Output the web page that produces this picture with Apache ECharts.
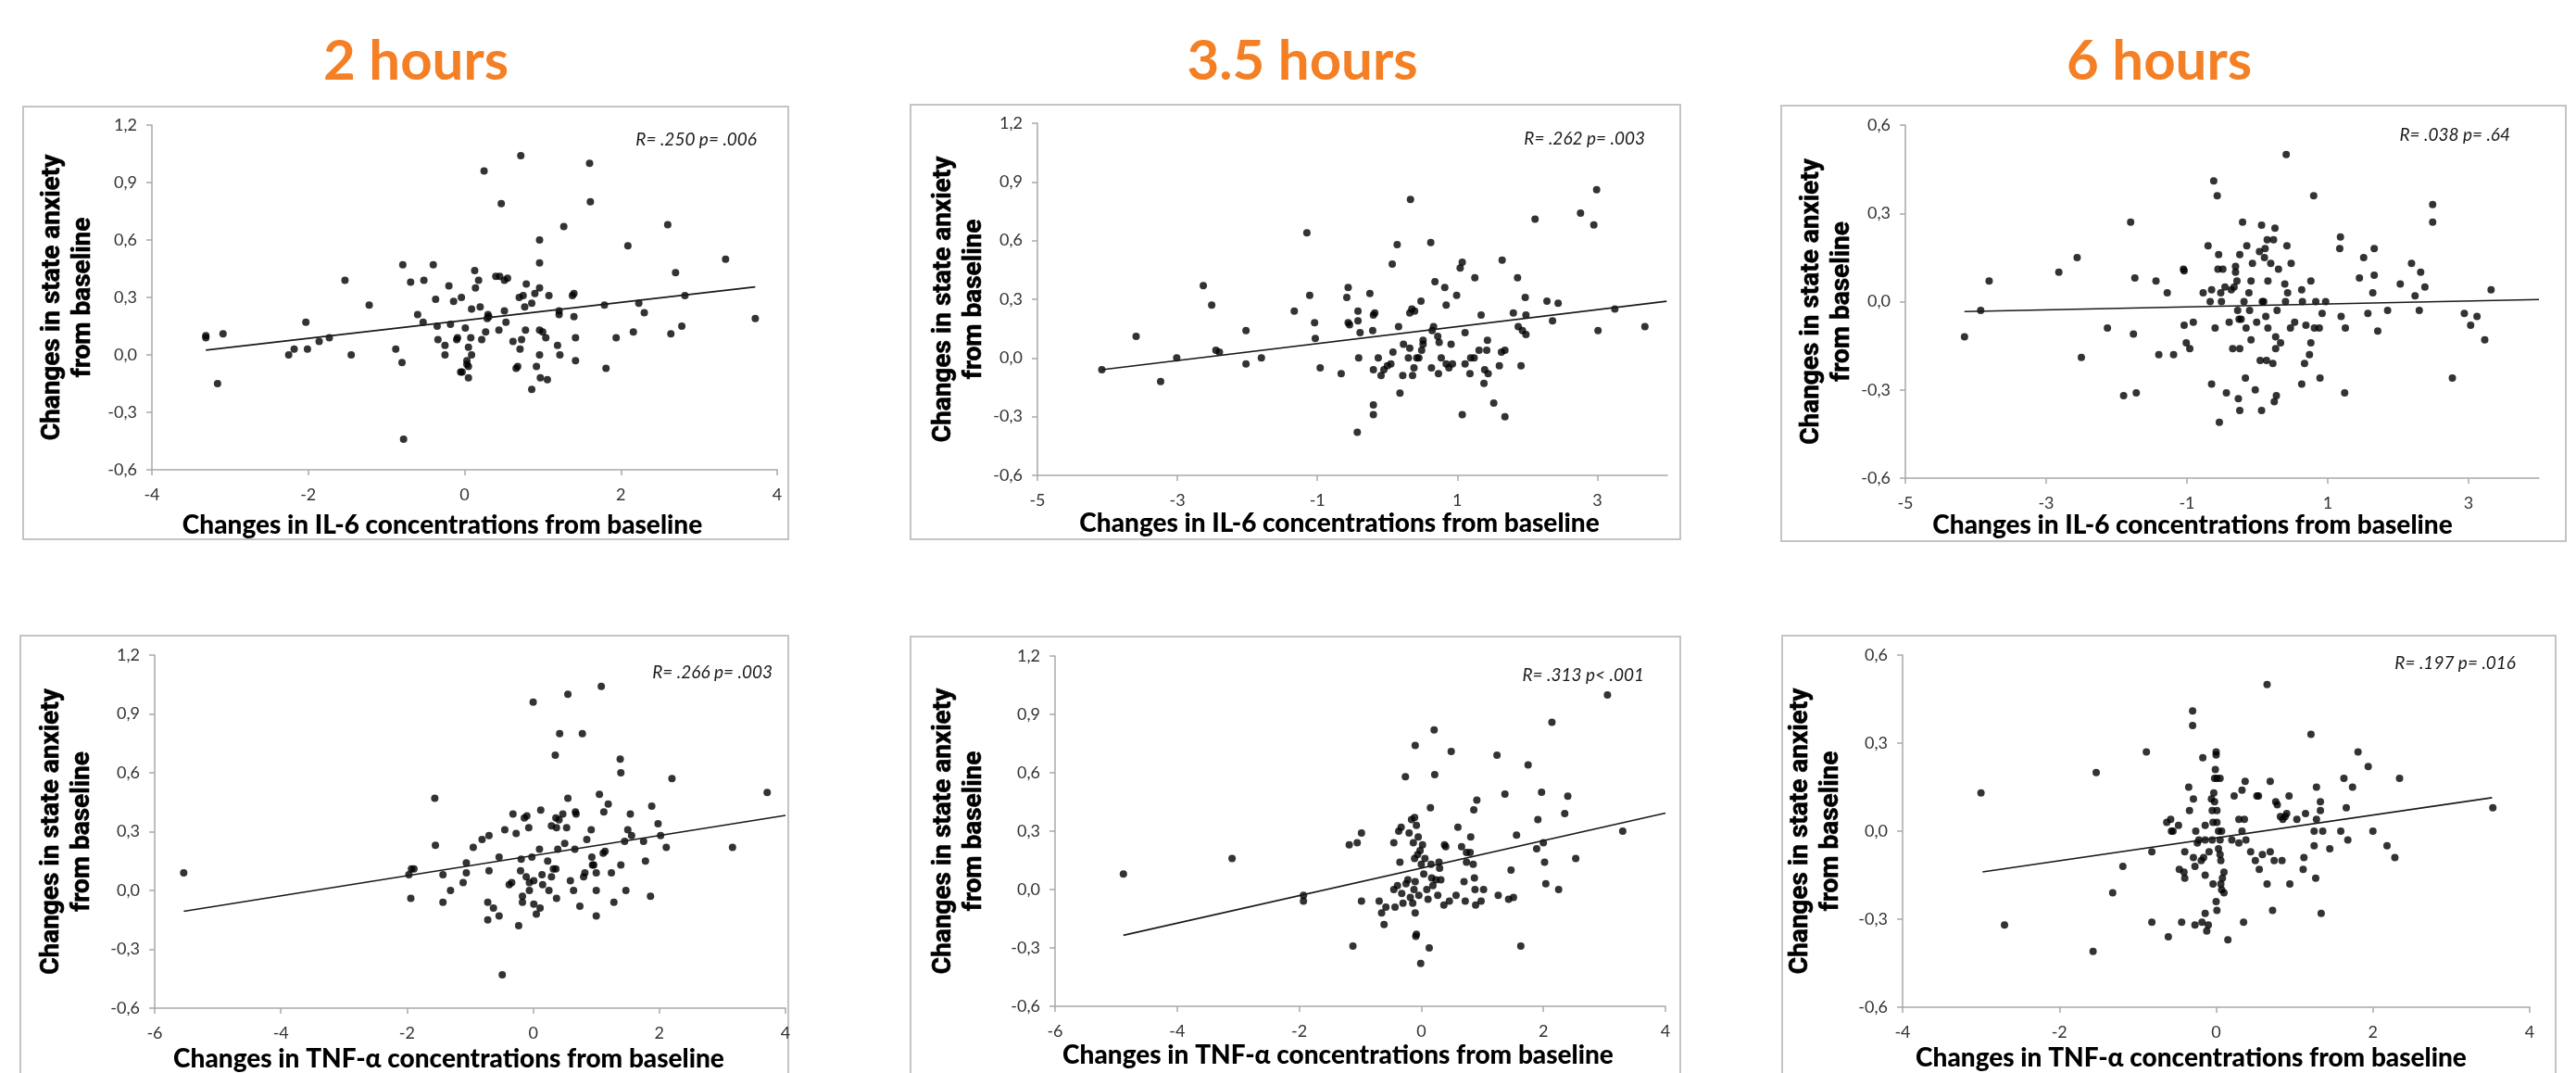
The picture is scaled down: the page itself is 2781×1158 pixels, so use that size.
<!DOCTYPE html>
<html><head><meta charset="utf-8">
<script src="https://cdn.jsdelivr.net/npm/echarts@6/dist/echarts.min.js"></script>
<style>html,body{margin:0;padding:0;background:#fff;overflow:hidden}#c{width:2781px;height:1158px}</style>
</head><body><div id="c"></div>
<script>
// ---------- DATA ----------
const titles = ['2 hours', '3.5 hours', '6 hours'];
const xNameIL6 = 'Changes in IL-6 concentrations from baseline';
const xNameTNF = 'Changes in TNF-\u03b1 concentrations from baseline';
const yName = 'Changes in state anxiety\nfrom baseline';
const stats = ['R= .250 p= .006', 'R= .262 p= .003', 'R= .038 p= .64', 'R= .266 p= .003', 'R= .313 p< .001', 'R= .197 p= .016'];

const xTicks_4 = [-4, -2, 0, 2, 4];
const xTicks_5 = [-5, -3, -1, 1, 3];
const xTicks_6 = [-6, -4, -2, 0, 2, 4];
const yTicks_wide = [-0.6, -0.3, 0, 0.3, 0.6, 0.9, 1.2];
const yTicks_narrow = [-0.6, -0.3, 0, 0.3, 0.6];
const xRange_4 = [-4, 4], xRange_5 = [-5, 4], xRange_6 = [-6, 4];
const yRange_wide = [-0.6, 1.2], yRange_narrow = [-0.6, 0.6];

const il6_2h = [[-3.31,0.10],[-3.31,0.09],[-3.09,0.11],[-3.16,-0.15],[-2.25,0.00],[-2.18,0.03],[-2.03,0.17],[-2.01,0.03],[-1.86,0.07],[-1.73,0.09],[-1.53,0.39],[-1.45,0.00],[-1.22,0.26],[-0.88,0.03],[-0.79,0.47],[-0.80,-0.04],[-0.78,-0.44],[-0.69,0.38],[-0.60,0.21],[-0.53,0.17],[-0.52,0.39],[-0.40,0.47],[-0.37,0.29],[-0.35,0.15],[-0.34,0.08],[-0.25,0.05],[-0.25,0.00],[-0.20,0.36],[-0.18,0.16],[-0.14,0.28],[-0.10,0.08],[-0.09,0.09],[-0.04,0.30],[-0.05,-0.09],[-0.03,-0.09],[0.01,0.14],[0.03,-0.03],[0.03,-0.05],[0.05,0.04],[0.05,-0.06],[0.05,-0.12],[0.08,0.09],[0.09,0.00],[0.09,0.24],[0.13,0.44],[0.14,0.35],[0.18,0.39],[0.20,0.25],[0.22,0.08],[0.25,0.96],[0.27,0.12],[0.29,0.19],[0.30,0.21],[0.31,0.20],[0.40,0.41],[0.45,0.41],[0.44,0.13],[0.47,0.79],[0.51,0.39],[0.51,0.23],[0.53,0.17],[0.55,0.40],[0.62,0.07],[0.66,-0.07],[0.68,-0.06],[0.70,0.30],[0.71,0.03],[0.72,1.04],[0.73,0.08],[0.75,0.31],[0.77,0.25],[0.78,0.13],[0.79,0.37],[0.86,0.27],[0.86,-0.18],[0.90,0.32],[0.92,-0.06],[0.96,0.35],[0.96,0.60],[0.96,0.48],[0.96,0.00],[0.96,0.13],[0.97,-0.12],[1.00,0.12],[1.04,0.09],[1.08,0.31],[1.06,-0.13],[1.19,0.05],[1.21,0.21],[1.21,0.23],[1.22,0.00],[1.27,0.67],[1.38,0.31],[1.40,0.32],[1.40,0.20],[1.42,0.09],[1.42,-0.03],[1.60,1.00],[1.61,0.80],[1.79,0.26],[1.81,-0.07],[1.94,0.09],[2.09,0.57],[2.16,0.12],[2.23,0.27],[2.30,0.22],[2.60,0.68],[2.64,0.11],[2.70,0.43],[2.78,0.15],[2.82,0.31],[3.34,0.50],[3.72,0.19]];
const trend_il6_2h = [[-3.31,0.025],[3.72,0.355]];

const il6_35h = [[-4.08,-0.06],[-3.59,0.11],[-3.24,-0.12],[-3.01,0.00],[-2.63,0.37],[-2.51,0.27],[-2.45,0.04],[-2.40,0.03],[-2.02,0.14],[-2.02,-0.03],[-1.80,0.00],[-1.33,0.24],[-1.15,0.64],[-1.11,0.32],[-1.04,0.18],[-1.03,0.10],[-0.96,-0.05],[-0.66,-0.08],[-0.58,0.31],[-0.56,0.36],[-0.56,0.18],[-0.54,0.17],[-0.43,-0.38],[-0.42,0.24],[-0.42,0.19],[-0.41,0.00],[-0.39,0.13],[-0.25,0.33],[-0.21,0.14],[-0.20,0.22],[-0.18,0.23],[-0.20,-0.06],[-0.20,-0.24],[-0.20,-0.29],[-0.13,0.00],[-0.09,-0.09],[-0.05,-0.06],[0.00,-0.04],[0.05,-0.03],[0.07,0.48],[0.08,0.03],[0.14,0.58],[0.16,0.16],[0.18,-0.18],[0.22,-0.09],[0.23,0.07],[0.30,0.00],[0.32,0.05],[0.32,0.23],[0.33,0.81],[0.35,0.25],[0.36,-0.09],[0.38,-0.05],[0.39,0.24],[0.42,0.00],[0.45,0.00],[0.48,0.29],[0.49,0.04],[0.51,0.07],[0.51,0.09],[0.62,0.59],[0.63,-0.05],[0.64,0.14],[0.66,0.16],[0.68,0.39],[0.72,0.11],[0.73,-0.08],[0.74,0.08],[0.77,0.00],[0.82,0.36],[0.84,0.27],[0.84,-0.03],[0.88,-0.05],[0.91,0.07],[0.93,-0.03],[0.99,0.32],[1.04,0.46],[1.07,0.49],[1.07,-0.29],[1.11,0.13],[1.11,-0.03],[1.18,-0.08],[1.19,0.00],[1.24,0.00],[1.25,0.41],[1.31,0.04],[1.34,0.22],[1.38,-0.13],[1.39,-0.06],[1.42,0.04],[1.43,0.09],[1.44,-0.08],[1.52,-0.23],[1.60,-0.04],[1.63,0.03],[1.64,0.50],[1.68,0.04],[1.68,-0.30],[1.80,0.23],[1.86,0.41],[1.87,0.16],[1.91,-0.04],[1.93,0.14],[1.97,0.31],[1.98,0.22],[1.98,0.12],[2.11,0.71],[2.28,0.29],[2.36,0.19],[2.44,0.28],[2.76,0.74],[2.95,0.68],[2.99,0.86],[3.01,0.14],[3.25,0.25],[3.68,0.16]];
const trend_il6_35h = [[-4.08,-0.06],[3.99,0.29]];

const il6_6h = [[-4.16,-0.12],[-3.93,-0.03],[-3.81,0.07],[-2.82,0.10],[-2.56,0.15],[-2.50,-0.19],[-2.13,-0.09],[-1.90,-0.32],[-1.80,0.27],[-1.76,-0.11],[-1.74,0.08],[-1.72,-0.31],[-1.44,0.07],[-1.40,-0.18],[-1.28,0.03],[-1.19,-0.18],[-1.05,0.11],[-1.04,0.105],[-1.04,-0.08],[-1.01,-0.14],[-0.96,-0.16],[-0.91,-0.07],[-0.77,0.03],[-0.70,0.19],[-0.67,0.00],[-0.65,0.04],[-0.65,-0.28],[-0.62,0.41],[-0.60,-0.09],[-0.57,0.36],[-0.56,0.11],[-0.55,0.16],[-0.54,-0.41],[-0.52,0.03],[-0.51,0.00],[-0.49,0.11],[-0.46,0.05],[-0.44,-0.31],[-0.40,-0.07],[-0.37,0.04],[-0.35,-0.16],[-0.33,0.05],[-0.31,0.12],[-0.31,0.10],[-0.29,0.07],[-0.28,-0.03],[-0.27,-0.33],[-0.26,-0.06],[-0.25,-0.16],[-0.25,-0.37],[-0.25,0.16],[-0.23,-0.06],[-0.21,0.27],[-0.19,0.00],[-0.17,-0.26],[-0.16,-0.09],[-0.15,0.19],[-0.12,0.03],[-0.11,-0.03],[-0.09,-0.13],[-0.09,0.07],[-0.07,0.13],[-0.03,-0.30],[-0.01,-0.07],[0.03,0.17],[0.04,-0.20],[0.06,0.26],[0.06,-0.37],[0.07,0.00],[0.09,0.00],[0.10,0.15],[0.11,0.18],[0.12,-0.05],[0.13,-0.20],[0.14,0.21],[0.15,0.07],[0.15,-0.09],[0.19,0.13],[0.22,-0.21],[0.23,0.21],[0.24,-0.34],[0.25,0.25],[0.26,-0.16],[0.26,-0.12],[0.27,-0.32],[0.28,-0.03],[0.30,0.11],[0.33,-0.14],[0.39,0.06],[0.40,0.00],[0.41,0.50],[0.42,0.19],[0.43,0.03],[0.47,-0.09],[0.48,0.13],[0.53,-0.07],[0.63,0.04],[0.63,-0.28],[0.64,0.00],[0.67,-0.21],[0.69,-0.08],[0.74,-0.18],[0.76,-0.14],[0.76,0.07],[0.80,0.36],[0.81,-0.09],[0.83,0.00],[0.88,-0.09],[0.89,-0.26],[0.92,-0.04],[0.97,0.00],[1.17,0.18],[1.18,0.22],[1.19,-0.05],[1.24,-0.31],[1.25,-0.09],[1.45,0.08],[1.51,0.15],[1.57,-0.04],[1.64,0.03],[1.66,0.18],[1.66,0.09],[1.71,-0.10],[1.85,-0.03],[2.03,0.06],[2.19,0.13],[2.24,0.02],[2.30,-0.03],[2.32,0.10],[2.38,0.05],[2.49,0.33],[2.49,0.27],[2.77,-0.26],[2.94,-0.04],[3.03,-0.08],[3.12,-0.05],[3.23,-0.13],[3.32,0.04]];
const trend_il6_6h = [[-4.16,-0.034],[4.0,0.007]];

const tnf_2h = [[-5.54,0.09],[-1.97,0.08],[-1.93,0.11],[-1.89,0.11],[-1.94,-0.04],[-1.56,0.47],[-1.55,0.23],[-1.43,0.08],[-1.43,-0.06],[-1.31,0.00],[-1.11,0.04],[-1.06,0.14],[-1.06,0.09],[-0.95,0.22],[-0.81,0.26],[-0.70,0.28],[-0.70,0.10],[-0.72,-0.06],[-0.72,-0.15],[-0.63,-0.09],[-0.54,0.17],[-0.54,-0.13],[-0.49,-0.43],[-0.45,0.31],[-0.38,0.03],[-0.34,0.04],[-0.32,0.39],[-0.27,0.29],[-0.23,-0.18],[-0.20,0.10],[-0.19,0.16],[-0.17,-0.03],[-0.17,-0.06],[-0.14,0.37],[-0.10,0.38],[-0.11,0.07],[-0.07,0.32],[-0.06,0.04],[-0.06,0.00],[-0.02,0.17],[0.00,0.96],[0.01,0.05],[0.01,-0.07],[0.05,-0.12],[0.10,0.21],[0.11,-0.09],[0.12,0.41],[0.14,0.08],[0.15,0.03],[0.23,0.15],[0.25,0.00],[0.29,0.07],[0.29,0.33],[0.32,0.11],[0.35,0.69],[0.36,0.37],[0.36,0.11],[0.37,0.32],[0.37,-0.04],[0.39,0.21],[0.42,0.80],[0.41,0.36],[0.47,0.39],[0.50,0.24],[0.53,0.32],[0.55,1.00],[0.55,0.47],[0.59,0.05],[0.64,0.00],[0.66,0.21],[0.67,0.40],[0.68,0.39],[0.74,-0.08],[0.78,0.80],[0.80,0.07],[0.82,0.09],[0.85,0.26],[0.92,0.31],[0.93,0.17],[0.94,0.13],[0.96,0.13],[1.00,0.00],[1.00,-0.13],[1.00,0.09],[1.05,0.49],[1.08,1.04],[1.11,0.19],[1.12,0.40],[1.14,0.20],[1.19,0.44],[1.24,0.09],[1.28,-0.06],[1.38,0.67],[1.39,0.60],[1.39,0.13],[1.45,0.25],[1.47,0.00],[1.50,0.31],[1.54,0.39],[1.56,0.28],[1.75,0.25],[1.78,0.15],[1.86,-0.03],[1.88,0.43],[1.98,0.34],[2.02,0.28],[2.11,0.22],[2.20,0.57],[3.16,0.22],[3.71,0.50]];
const trend_tnf_2h = [[-5.54,-0.106],[4.0,0.383]];

const tnf_35h = [[-4.88,0.08],[-3.10,0.16],[-1.93,-0.03],[-1.93,-0.06],[-1.18,0.23],[-1.12,-0.29],[-1.05,0.24],[-0.98,0.29],[-0.98,-0.06],[-0.69,-0.06],[-0.65,-0.12],[-0.61,-0.18],[-0.58,-0.09],[-0.45,0.24],[-0.45,0.00],[-0.43,-0.09],[-0.39,0.02],[-0.37,0.30],[-0.35,0.14],[-0.33,0.32],[-0.32,-0.02],[-0.30,-0.07],[-0.26,0.58],[-0.25,0.03],[-0.22,0.05],[-0.20,0.29],[-0.18,-0.04],[-0.16,0.36],[-0.14,-0.07],[-0.13,0.24],[-0.12,0.00],[-0.11,0.37],[-0.11,0.16],[-0.10,0.74],[-0.10,0.04],[-0.10,-0.12],[-0.09,-0.24],[-0.08,0.33],[-0.08,-0.23],[-0.06,0.18],[-0.05,0.27],[-0.04,-0.03],[-0.02,0.20],[-0.01,-0.38],[0.00,0.13],[0.02,0.23],[0.04,0.08],[0.06,0.16],[0.09,0.00],[0.11,-0.05],[0.13,-0.30],[0.15,0.42],[0.16,0.13],[0.17,0.06],[0.19,0.02],[0.21,0.82],[0.22,0.59],[0.24,0.05],[0.27,-0.03],[0.29,0.14],[0.30,0.11],[0.32,0.05],[0.37,-0.08],[0.38,0.23],[0.40,0.22],[0.46,-0.06],[0.49,0.71],[0.57,-0.03],[0.60,0.32],[0.66,0.22],[0.70,0.04],[0.72,-0.06],[0.74,0.19],[0.74,0.14],[0.80,0.19],[0.81,0.27],[0.85,0.13],[0.86,0.41],[0.87,0.06],[0.88,0.00],[0.89,-0.08],[0.91,0.46],[0.98,-0.06],[1.02,0.00],[1.24,0.69],[1.26,-0.03],[1.37,0.49],[1.43,-0.05],[1.47,0.10],[1.51,-0.04],[1.56,0.28],[1.63,-0.29],[1.75,0.64],[1.89,0.21],[1.91,0.36],[1.97,0.50],[2.00,0.24],[2.02,0.14],[2.04,0.03],[2.14,0.86],[2.25,0.00],[2.35,0.39],[2.40,0.48],[2.53,0.16],[3.05,1.00],[3.30,0.30]];
const trend_tnf_35h = [[-4.88,-0.235],[4.0,0.393]];

const tnf_6h = [[-3.00,0.13],[-2.70,-0.32],[-1.57,-0.41],[-1.53,0.20],[-1.32,-0.21],[-1.19,-0.12],[-0.89,0.27],[-0.82,-0.07],[-0.82,-0.31],[-0.63,0.03],[-0.61,-0.36],[-0.58,0.04],[-0.57,0.00],[-0.55,0.00],[-0.48,0.02],[-0.47,-0.13],[-0.44,-0.31],[-0.41,-0.14],[-0.40,-0.07],[-0.40,-0.16],[-0.35,0.15],[-0.34,0.07],[-0.30,0.41],[-0.30,0.36],[-0.29,0.11],[-0.29,-0.09],[-0.27,-0.12],[-0.27,-0.32],[-0.26,0.00],[-0.24,-0.04],[-0.22,-0.03],[-0.19,-0.10],[-0.18,-0.31],[-0.17,0.25],[-0.16,-0.09],[-0.14,-0.28],[-0.14,0.02],[-0.14,-0.15],[-0.14,-0.03],[-0.12,-0.34],[-0.10,-0.32],[-0.09,-0.07],[-0.06,0.11],[-0.05,0.07],[-0.05,-0.03],[-0.04,-0.18],[-0.04,0.03],[-0.03,0.13],[-0.02,0.18],[-0.02,0.10],[-0.01,0.21],[0.00,0.27],[0.00,0.26],[0.00,-0.24],[0.01,-0.27],[0.01,0.07],[0.01,0.18],[0.01,0.03],[0.03,0.00],[0.03,-0.06],[0.05,-0.08],[0.05,0.18],[0.05,-0.03],[0.06,-0.10],[0.06,-0.18],[0.07,0.00],[0.07,-0.20],[0.08,-0.16],[0.10,-0.21],[0.10,-0.14],[0.15,-0.37],[0.20,-0.03],[0.23,0.12],[0.29,0.04],[0.29,-0.04],[0.33,0.14],[0.33,0.00],[0.35,-0.31],[0.36,0.04],[0.37,0.17],[0.38,-0.03],[0.44,-0.07],[0.50,-0.10],[0.52,0.12],[0.54,0.12],[0.55,-0.13],[0.59,-0.08],[0.65,-0.18],[0.65,0.50],[0.69,-0.07],[0.69,0.17],[0.72,-0.27],[0.74,-0.10],[0.76,0.10],[0.78,0.09],[0.82,0.05],[0.84,-0.10],[0.85,0.04],[0.88,0.05],[0.90,0.06],[0.93,0.12],[0.94,-0.18],[1.03,0.04],[1.11,-0.13],[1.12,-0.09],[1.14,0.06],[1.21,0.33],[1.25,0.00],[1.25,-0.05],[1.27,-0.16],[1.28,0.15],[1.28,0.04],[1.33,0.10],[1.33,0.07],[1.34,-0.28],[1.36,0.00],[1.45,-0.06],[1.59,0.00],[1.63,0.18],[1.66,0.08],[1.68,-0.03],[1.74,0.15],[1.81,0.27],[1.94,0.22],[2.00,0.00],[2.18,-0.05],[2.28,-0.09],[2.34,0.18],[3.53,0.08]];
const trend_tnf_6h = [[-2.98,-0.139],[3.52,0.114]];

// ---------- PANEL DEFINITIONS ----------
const panels = [
  {data: il6_2h,  trend: trend_il6_2h,  xTicks: xTicks_4, xRange: xRange_4, yTicks: yTicks_wide,   yRange: yRange_wide,   xName: xNameIL6, stat: stats[0]},
  {data: il6_35h, trend: trend_il6_35h, xTicks: xTicks_5, xRange: xRange_5, yTicks: yTicks_wide,   yRange: yRange_wide,   xName: xNameIL6, stat: stats[1]},
  {data: il6_6h,  trend: trend_il6_6h,  xTicks: xTicks_5, xRange: xRange_5, yTicks: yTicks_narrow, yRange: yRange_narrow, xName: xNameIL6, stat: stats[2]},
  {data: tnf_2h,  trend: trend_tnf_2h,  xTicks: xTicks_6, xRange: xRange_6, yTicks: yTicks_wide,   yRange: yRange_wide,   xName: xNameTNF, stat: stats[3]},
  {data: tnf_35h, trend: trend_tnf_35h, xTicks: xTicks_6, xRange: xRange_6, yTicks: yTicks_wide,   yRange: yRange_wide,   xName: xNameTNF, stat: stats[4]},
  {data: tnf_6h,  trend: trend_tnf_6h,  xTicks: xTicks_4, xRange: xRange_4, yTicks: yTicks_narrow, yRange: yRange_narrow, xName: xNameTNF, stat: stats[5]}
];

// ---------- LAYOUT (pixels) ----------
const layout = [
  {grid: {left: 164,  top: 135, width: 675, height: 372}, yGap: 58, xGap: 46, xShift: 24, statX: 817,  statY: 151, frame: [25, 115, 826, 467]},
  {grid: {left: 1120, top: 133, width: 680, height: 380}, yGap: 52, xGap: 38, xShift: 14, statX: 1776, statY: 150, frame: [983, 113, 831, 469]},
  {grid: {left: 2057, top: 135, width: 684, height: 381}, yGap: 48, xGap: 37, xShift: 32, statX: 2710, statY: 146, frame: [1923, 114, 847, 470]},
  {grid: {left: 167,  top: 707, width: 681, height: 382}, yGap: 62, xGap: 41, xShift: 23, statX: 834,  statY: 726, frame: [22, 686, 829, 520]},
  {grid: {left: 1139, top: 708, width: 659, height: 378}, yGap: 71, xGap: 39, xShift: 24, statX: 1775, statY: 729, frame: [983, 687, 831, 520]},
  {grid: {left: 2054, top: 707, width: 677, height: 380}, yGap: 61, xGap: 41, xShift: 27, statX: 2716, statY: 716, frame: [1924, 686, 835, 520]}
];
const titleX = [449, 1406, 2331];
const titleY = 67;

const axisGrey = '#a9a9a9';
const tickText = '#333';
const yFmt = v => (Math.round(v * 10) / 10).toFixed(1).replace('.', ',');

const grids = [], xAxes = [], yAxes = [], series = [], graphics = [];
panels.forEach((p, i) => {
  const L = layout[i];
  grids.push(Object.assign({}, L.grid));
  xAxes.push({
    type: 'value', gridIndex: i, min: p.xRange[0], max: p.xRange[1],
    name: p.xName, nameLocation: 'middle', nameGap: L.xGap,
    nameTextStyle: {fontFamily: 'Lato', fontWeight: 900, fontSize: 28, color: '#000', padding: [0, 2 * L.xShift, 0, 0]},
    axisLine: {show: true, onZero: false, lineStyle: {color: axisGrey, width: 1.5}},
    axisTick: {show: true, customValues: p.xTicks, length: 6, lineStyle: {color: axisGrey, width: 1.5}},
    axisLabel: {customValues: p.xTicks, margin: 18, fontFamily: 'Lato', fontSize: 18, color: tickText},
    splitLine: {show: false}
  });
  yAxes.push({
    type: 'value', gridIndex: i, min: p.yRange[0], max: p.yRange[1],
    name: yName, nameLocation: 'middle', nameRotate: 90, nameGap: L.yGap,
    nameTextStyle: {fontFamily: 'Roboto', fontWeight: 'bold', fontSize: 28, lineHeight: 33, color: '#000', align: 'center',
      textBorderColor: '#000', textBorderWidth: 0.6},
    axisLine: {show: true, onZero: false, lineStyle: {color: axisGrey, width: 1.5}},
    axisTick: {show: true, customValues: p.yTicks, length: 6, lineStyle: {color: axisGrey, width: 1.5}},
    axisLabel: {customValues: p.yTicks, margin: 16, fontFamily: 'Lato', fontSize: 18, color: tickText, formatter: yFmt},
    splitLine: {show: false}
  });
  series.push({
    type: 'scatter', xAxisIndex: i, yAxisIndex: i, data: p.data,
    symbol: 'circle', symbolSize: 8, itemStyle: {color: '#000'}, silent: true
  });
  series.push({
    type: 'line', xAxisIndex: i, yAxisIndex: i, data: p.trend,
    showSymbol: false, symbol: 'none', silent: true,
    lineStyle: {color: '#1a1a1a', width: 1.6}
  });
  const f = L.frame;
  graphics.push({type: 'rect', shape: {x: f[0], y: f[1], width: f[2], height: f[3]},
    style: {fill: 'none', stroke: '#c4c4c4', lineWidth: 2}, silent: true, z: -10});
  graphics.push({type: 'text', x: L.statX, y: L.statY,
    style: {text: p.stat, fill: '#1a1a1a', font: 'italic 19px Lato', align: 'right', verticalAlign: 'middle'}, silent: true});
});
titles.forEach((t, i) => {
  graphics.push({type: 'text', x: titleX[i], y: titleY,
    style: {text: t, fill: '#F47F24', font: 'bold 60px Lato', align: 'center', verticalAlign: 'middle'}, silent: true});
});

const chart = echarts.init(document.getElementById('c'), null, {renderer: 'canvas'});
chart.setOption({
  animation: false,
  backgroundColor: '#fff',
  grid: grids, xAxis: xAxes, yAxis: yAxes, series: series, graphic: graphics
});
</script></body></html>
